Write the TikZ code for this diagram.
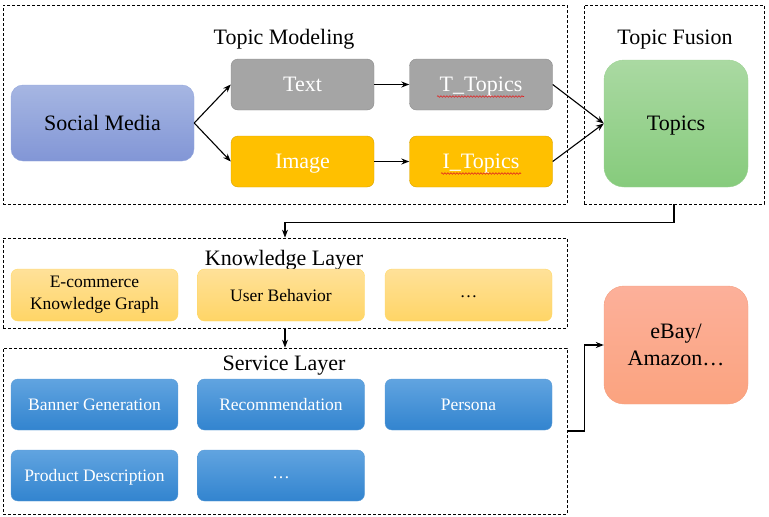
\documentclass[tikz,border=0pt]{standalone}
\usepackage{fontspec}
\setmainfont{Liberation Serif}
\usetikzlibrary{arrows.meta,calc,decorations.pathmorphing}
\definecolor{smtop}{HTML}{A6B6E2}
\definecolor{smbot}{HTML}{8296D6}
\definecolor{smline}{HTML}{93A6DC}
\definecolor{grayfill}{HTML}{A5A5A5}
\definecolor{grayline}{HTML}{8C8C8C}
\definecolor{goldfill}{HTML}{FFC000}
\definecolor{goldline}{HTML}{D9A300}
\definecolor{grtop}{HTML}{AAD9A2}
\definecolor{grbot}{HTML}{86CB7C}
\definecolor{grline}{HTML}{9DD394}
\definecolor{ortop}{HTML}{FFE199}
\definecolor{orbot}{HTML}{FFD566}
\definecolor{orline}{HTML}{FFD966}
\definecolor{bltop}{HTML}{61A4E0}
\definecolor{blbot}{HTML}{3284CF}
\definecolor{blline}{HTML}{5B9BD5}
\definecolor{saltop}{HTML}{FCB09A}
\definecolor{salbot}{HTML}{FBA37F}
\definecolor{salline}{HTML}{F4A080}
\definecolor{squig}{HTML}{E02020}
\tikzset{
  frame/.style={draw=black, dashed, line width=0.7pt, dash pattern=on 3pt off 2pt, rectangle, inner sep=0pt},
  ttl/.style={font=\fontsize{22}{24}\selectfont, inner sep=0pt, text depth=0pt},
  smbox/.style={rounded corners=12pt, top color=smtop, bottom color=smbot, draw=smline, minimum width=183pt, minimum height=76pt, font=\fontsize{22}{24}\selectfont, inner sep=0pt, text depth=0pt},
  graybox/.style={rounded corners=7pt, fill=grayfill, draw=grayline, minimum width=143pt, minimum height=51pt, text=white, font=\fontsize{22}{24}\selectfont, inner sep=0pt, text depth=0pt},
  goldbox/.style={rounded corners=7pt, fill=goldfill, draw=goldline, minimum width=143pt, minimum height=51pt, text=white, font=\fontsize{22}{24}\selectfont, inner sep=0pt, text depth=0pt},
  greenbox/.style={rounded corners=20pt, top color=grtop, bottom color=grbot, draw=grline, minimum width=144pt, minimum height=127pt, font=\fontsize{22}{24}\selectfont, inner sep=0pt, text depth=0pt},
  kbox/.style={rounded corners=7pt, top color=ortop, bottom color=orbot, draw=orline, minimum width=167pt, minimum height=52pt, font=\fontsize{17.5}{22}\selectfont, align=center, inner sep=0pt},
  sbox/.style={rounded corners=7pt, top color=bltop, bottom color=blbot, draw=blline, minimum width=167pt, minimum height=51pt, text=white, font=\fontsize{17.5}{21}\selectfont, inner sep=0pt, text depth=0pt},
  ebaybox/.style={rounded corners=20pt, top color=saltop, bottom color=salbot, draw=salline, minimum width=144pt, minimum height=118pt, font=\fontsize{22}{27}\selectfont, align=center, inner sep=0pt},
  dots/.style={text height=5pt, text depth=0pt},
  arr/.style={draw=black, line width=1.1pt, -{Stealth[length=8pt,width=6pt]}},
  spell/.style={draw=squig, line width=0.6pt, decorate, decoration={snake, amplitude=0.8pt, segment length=3pt}},
}
\begin{document}
\begin{tikzpicture}[x=1pt,y=-1pt]
\useasboundingbox (0,0) rectangle (769,517);
% frames
\node[frame, minimum width=564pt, minimum height=199pt] (tm) at (285,104.5) {};
\node[frame, minimum width=180pt, minimum height=199pt] (tf) at (674,104.5) {};
\node[frame, minimum width=564pt, minimum height=90pt] (kl) at (285,283) {};
\node[frame, minimum width=564pt, minimum height=166pt] (sl) at (285,431) {};
% titles
\node[ttl] (tmt) at (284,37) {Topic Modeling};
\node[ttl] (tft) at (675,37) {Topic Fusion};
\node[ttl] (klt) at (284,258) {Knowledge Layer};
\node[ttl] (slt) at (284,363) {Service Layer};
% topic modeling
\node[smbox] (sm) at (102.5,123) {Social Media};
\node[graybox] (text) at (302.5,84.5) {Text};
\node[graybox] (tt) at (481,84.5) {T\_Topics};
\node[goldbox] (image) at (302.5,161.5) {Image};
\node[goldbox] (it) at (481,161.5) {I\_Topics};
\node[greenbox] (topics) at (676,123.5) {Topics};
% spell-check marks
\draw[spell] ($(tt.center)+(-44,12)$) -- ($(tt.center)+(43,12)$);
\draw[spell] ($(it.center)+(-40,12)$) -- ($(it.center)+(40,12)$);
% knowledge
\node[kbox] (kg) at (94.5,295) {E-commerce\\Knowledge Graph};
\node[kbox, text depth=0pt] (ub) at (281,295) {User Behavior};
\node[kbox, dots] (kd) at (468.5,295) {\ldots};
% service
\node[sbox] (bg) at (94.5,404.5) {Banner Generation};
\node[sbox] (rec) at (281,404.5) {Recommendation};
\node[sbox] (per) at (468.5,404.5) {Persona};
\node[sbox] (pd) at (94.5,475.5) {Product Description};
\node[sbox, dots] (sd) at (281,475.5) {\ldots};
% ebay
\node[ebaybox] (ebay) at (676,345) {eBay/\\Amazon\ldots};
% connectors
\draw[arr] (sm.east) -- (text.west);
\draw[arr] (sm.east) -- (image.west);
\draw[arr] (text.east) -- (tt.west);
\draw[arr] (image.east) -- (it.west);
\draw[arr] (tt.east) -- (topics.west);
\draw[arr] (it.east) -- (topics.west);
\draw[arr] (tf.south) -- ++(0,18) -| (kl.north);
\draw[arr] (kl.south) -- (sl.north);
\draw[arr] (sl.east) -- ++(17,0) |- (ebay.west);
\end{tikzpicture}
\end{document}
